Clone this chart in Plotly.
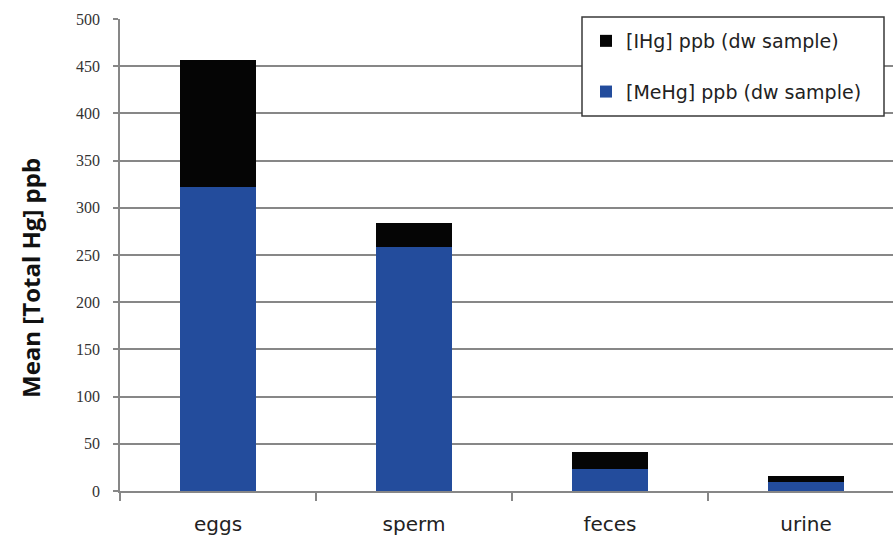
import plotly.graph_objects as go

# Mean mercury species per sample type (ppb, dry weight)
categories = ["eggs", "sperm", "feces", "urine"]
mehg_ppb = [322, 258, 23, 9.5]
ihg_ppb = [135, 26, 18.5, 6]

series_names = ["[MeHg] ppb (dw sample)", "[IHg] ppb (dw sample)"]
y_ticks = [0, 50, 100, 150, 200, 250, 300, 350, 400, 450, 500]

BLUE = "#234C9C"
BLACK = "#050505"
GRID = "#878787"
SANS = "DejaVu Sans, Open Sans, sans-serif"

fig = go.Figure()
fig.add_trace(go.Bar(
    x=categories, y=mehg_ppb, name=series_names[0],
    marker=dict(color=BLUE, line=dict(width=0)),
    width=0.39, legendgroup="me", legendrank=2,
))
fig.add_trace(go.Bar(
    x=categories, y=ihg_ppb, name=series_names[1],
    marker=dict(color=BLACK, line=dict(width=0)),
    width=0.39, legendgroup="ih", legendrank=1,
))

W, H = 893, 538
ml, mr, mt, mb = 120, 0, 19, 47
pw = W - ml - mr
ph = H - mt - mb

def px_x(x):
    return (x - ml) / pw

def px_y(y):
    return (H - mb - y) / ph

# legend frame
fig.add_shape(
    type="rect", xref="paper", yref="paper", layer="above",
    x0=px_x(582), x1=px_x(884), y0=px_y(116), y1=px_y(17),
    fillcolor="white", line=dict(color="#3a3a3a", width=1.5),
)

fig.add_annotation(
    text="<b>Mean [Total Hg] ppb</b>", textangle=-90,
    xref="paper", yref="paper", x=px_x(30), y=px_y(278),
    xanchor="center", yanchor="middle", showarrow=False,
    font=dict(family="Open Sans, Liberation Sans, sans-serif", size=24, color="#111111"),
)

fig.update_layout(
    width=W, height=H,
    margin=dict(l=ml, r=mr, t=mt, b=mb, pad=0),
    paper_bgcolor="white", plot_bgcolor="white",
    barmode="stack",
    showlegend=True,
    legend=dict(
        x=px_x(586), y=px_y(22), xanchor="left", yanchor="top",
        traceorder="grouped", tracegroupgap=23,
        bgcolor="rgba(0,0,0,0)", borderwidth=0,
        font=dict(family=SANS, size=19, color="#222222"),
        itemwidth=30,
    ),
    xaxis=dict(
        range=[-0.5, 3.444],
        showgrid=False,
        showline=True, linecolor=GRID, linewidth=1.5,
        ticks="outside", tickson="boundaries", ticklen=8, tickcolor=GRID, tickwidth=1.5,
        ticklabelstandoff=14,
        tickfont=dict(family=SANS, size=20, color="#222222"),
        fixedrange=True,
    ),
    yaxis=dict(
        range=[0, 500], tickvals=y_ticks,
        showgrid=True, gridcolor=GRID, gridwidth=1.5,
        showline=True, linecolor=GRID, linewidth=1.5,
        ticks="outside", ticklen=5, tickcolor=GRID, tickwidth=1.5,
        ticklabelstandoff=10,
        tickfont=dict(family="Liberation Serif, serif", size=16, color="#333333"),
        zeroline=False,
        fixedrange=True,
    ),
)

fig.write_html("out.html")
